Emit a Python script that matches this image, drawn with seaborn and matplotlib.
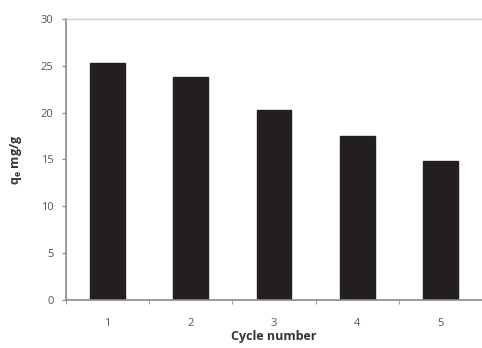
import matplotlib
matplotlib.use("Agg")
import matplotlib.pyplot as plt
import seaborn as sns
import pandas as pd
import numpy as np

cycles = ["1", "2", "3", "4", "5"]
qe = [25.3, 23.8, 20.3, 17.5, 14.8]
yticks = [0, 5, 10, 15, 20, 25, 30]

sns.set_style("white")
plt.rcParams['font.family'] = ['Open Sans', 'DejaVu Sans']

df = pd.DataFrame({"Cycle": cycles, "qe": qe})

fig = plt.figure(figsize=(4.82, 3.48), dpi=100)
ax = fig.add_axes([66/482, 48/348, 1 - 66/482, (300-19)/348])
sns.barplot(data=df, x="Cycle", y="qe", color="#231f20", width=0.42,
            saturation=1, ax=ax, edgecolor="#231f20")

ax.set_ylim(0, 30)
ax.set_yticks(yticks)
ax.set_xlim(-0.5, 4.41)
ax.set_ylabel(r"q$_\mathregular{e}$ mg/g", fontsize=9, fontweight="bold", color="#333333", labelpad=12)
ax.set_xlabel("Cycle number", fontsize=9, fontweight="bold", color="#333333", labelpad=1)

for s in ["left", "bottom"]:
    ax.spines[s].set_color("#8a8a8a")
    ax.spines[s].set_linewidth(1.2)
ax.spines["top"].set_color("#d0d0d0")
ax.spines["top"].set_linewidth(1.0)
ax.spines["right"].set_visible(False)

ax.tick_params(axis="y", which="major", length=3, color="#8a8a8a", labelsize=8, labelcolor="#555555", direction="out", left=True, pad=6)
ax.tick_params(axis="x", which="major", length=0, labelsize=8, labelcolor="#555555", pad=13)
ax.set_xticks(np.arange(-0.5, 5, 1), minor=True)
ax.tick_params(axis="x", which="minor", length=3, color="#8a8a8a", direction="out", bottom=True)

fig.savefig("out.png", dpi=100)
